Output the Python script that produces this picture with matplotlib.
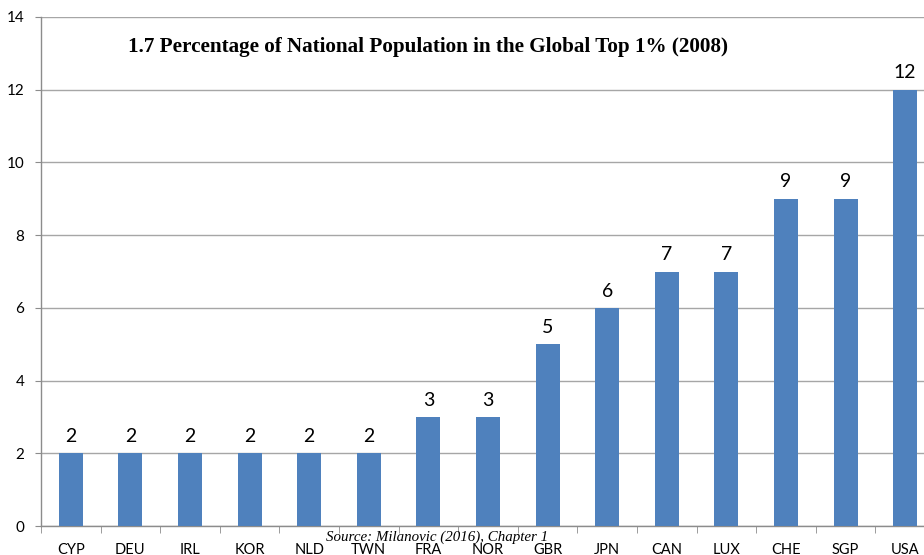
import matplotlib.pyplot as plt
import numpy as np

countries = ["CYP", "DEU", "IRL", "KOR", "NLD", "TWN", "FRA", "NOR", "GBR", "JPN", "CAN", "LUX", "CHE", "SGP", "USA"]
values = [2, 2, 2, 2, 2, 2, 3, 3, 5, 6, 7, 7, 9, 9, 12]
yticks = [0, 2, 4, 6, 8, 10, 12, 14]

W, H = 924, 555
fig = plt.figure(figsize=(W / 100, H / 100), dpi=100)
left, right, top, bottom = 41, 935, 17, 526
ax = fig.add_axes([left / W, 1 - bottom / H, (right - left) / W, (bottom - top) / H])

x = np.arange(len(countries))
bars = ax.bar(x, values, width=0.40, color="#4F81BD", zorder=3)
ax.set_xlim(-0.5, len(countries) - 0.5)
ax.set_ylim(0, 14)
ax.set_yticks(yticks)
ax.set_yticklabels([str(v) for v in yticks], fontfamily="Lato", fontsize=11)
ax.set_xticks(x)
ax.set_xticklabels(countries, fontfamily="Lato", fontsize=10.5)
ax.tick_params(axis="x", length=0, pad=12)
ax.set_xticks(np.arange(len(countries) + 1) - 0.5, minor=True)
ax.tick_params(axis="x", which="minor", length=5, color="#8c8c8c", direction="out")
ax.tick_params(axis="y", length=4, color="#8c8c8c", pad=8)
ax.yaxis.grid(True, color="#a6a6a6", linewidth=1.0, zorder=0)
for s in ["top", "right"]:
    ax.spines[s].set_visible(False)
for s in ["left", "bottom"]:
    ax.spines[s].set_color("#8c8c8c")
    ax.spines[s].set_linewidth(1.0)

for xi, v in zip(x, values):
    ax.annotate(str(v), (xi, v), xytext=(0, 6), textcoords="offset points",
                ha="center", va="bottom", fontfamily="Lato", fontsize=14)

fig.text(128 / W, 1 - 47 / H, "1.7 Percentage of National Population in the Global Top 1% (2008)",
         fontfamily="Liberation Serif", fontweight="bold", fontsize=15.2, ha="left", va="center")
fig.text(437 / W, 1 - 537 / H, "Source: Milanovic (2016), Chapter 1",
         fontfamily="Liberation Serif", fontstyle="italic", fontsize=10.8, ha="center", va="center")

fig.savefig("out.png", dpi=100)
